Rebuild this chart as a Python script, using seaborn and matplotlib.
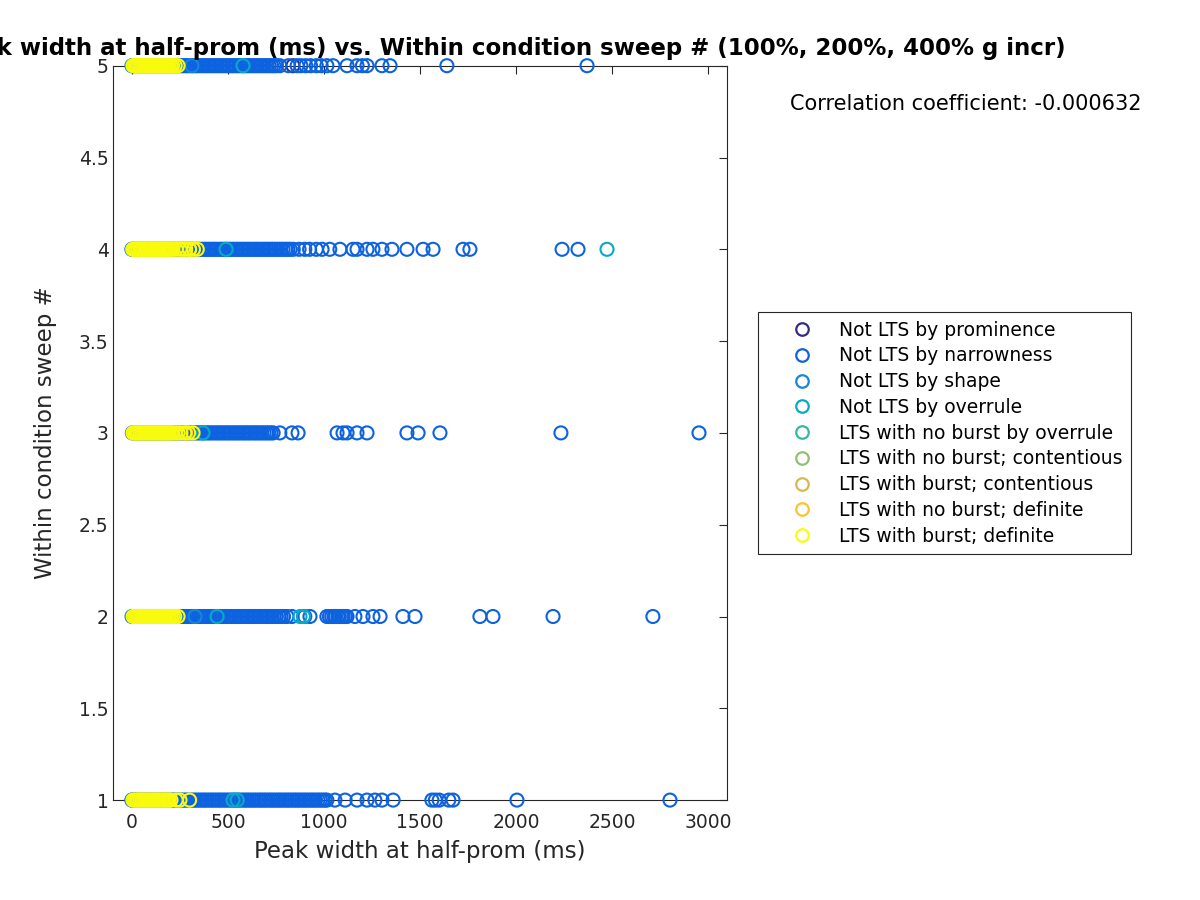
import pandas as pd
import matplotlib
matplotlib.use("Agg")
import matplotlib.pyplot as plt
from matplotlib.lines import Line2D
from matplotlib.ticker import FuncFormatter
import seaborn as sns

classes = ["Not LTS by prominence", "Not LTS by narrowness", "Not LTS by shape",
           "Not LTS by overrule", "LTS with no burst by overrule",
           "LTS with no burst; contentious", "LTS with burst; contentious",
           "LTS with no burst; definite", "LTS with burst; definite"]
colors = ["#352a87", "#0d62e0", "#1587d6", "#07aac6", "#35b99c",
          "#8fc073", "#d6b852", "#fcc331", "#f9fb0e"]

# peak widths (ms) per within-condition sweep
narrow_1 = [0, 12, 25, 37, 48, 61, 73, 86, 97, 110, 122, 135, 147, 158, 171, 183, 196,
            208, 219, 232, 244, 257, 268, 281, 293, 305, 318, 330, 342, 355, 367, 379,
            391, 404, 416, 428, 441, 453, 465, 477, 490, 502, 514, 527, 539, 551, 563,
            576, 588, 600, 612, 625, 637, 649, 662, 674, 686, 698, 711, 723, 735, 748,
            760, 772, 784, 797, 809, 821, 834, 846, 858, 870, 883, 895, 907, 920, 932,
            944, 956, 969, 981, 993, 1005, 1015, 1057, 1110, 1172, 1224, 1265, 1302,
            1360, 1562, 1580, 1600, 1650, 1672, 2005, 2802]
narrow_2 = [3, 15, 27, 40, 52, 64, 77, 89, 101, 113, 126, 138, 150, 163, 175, 187, 199,
            212, 224, 236, 249, 261, 273, 285, 298, 310, 322, 335, 347, 359, 371, 384,
            396, 408, 421, 433, 445, 457, 470, 482, 494, 507, 519, 531, 543, 556, 568,
            580, 593, 605, 617, 629, 642, 654, 666, 679, 691, 703, 715, 728, 740, 752,
            765, 777, 789, 807, 833, 900, 927, 1015, 1028, 1040, 1052, 1060, 1072, 1080,
            1092, 1100, 1112, 1120, 1161, 1203, 1255, 1292, 1411, 1474, 1812, 1880,
            2193, 2713]
narrow_3 = [2, 14, 26, 39, 51, 63, 75, 88, 100, 112, 124, 137, 149, 161, 173, 186, 198,
            210, 222, 235, 247, 259, 271, 284, 296, 308, 320, 333, 345, 357, 369, 382,
            394, 406, 418, 431, 443, 455, 467, 480, 492, 504, 516, 529, 541, 553, 565,
            578, 590, 602, 614, 627, 639, 651, 663, 676, 688, 700, 712, 724, 735, 770,
            833, 865, 1068, 1099, 1120, 1172, 1224, 1432, 1490, 1604, 2234, 2953]
narrow_4 = [1, 13, 26, 38, 50, 62, 75, 87, 99, 112, 124, 136, 148, 161, 173, 185, 198,
            210, 222, 234, 247, 259, 271, 284, 296, 308, 320, 333, 345, 357, 370, 382,
            394, 406, 419, 431, 443, 456, 468, 480, 492, 505, 517, 529, 542, 554, 566,
            578, 591, 603, 615, 628, 640, 652, 664, 677, 689, 701, 714, 726, 738, 750,
            763, 775, 787, 800, 812, 824, 840, 870, 900, 925, 960, 990, 1030, 1083,
            1151, 1172, 1224, 1255, 1302, 1354, 1432, 1516, 1568, 1724, 1760, 2240, 2323]
narrow_5 = [2, 14, 27, 39, 51, 64, 76, 88, 100, 113, 125, 137, 150, 162, 174, 186, 199,
            211, 223, 236, 248, 260, 272, 285, 297, 309, 322, 334, 346, 358, 371, 383,
            395, 408, 420, 432, 444, 457, 469, 481, 494, 506, 518, 530, 543, 555, 567,
            580, 592, 604, 616, 629, 641, 653, 666, 678, 690, 702, 715, 727, 739, 752,
            770, 815, 860, 880, 905, 930, 960, 985, 1015, 1047, 1120, 1172, 1200, 1224,
            1302, 1344, 1640, 2370]
promin_1 = [15]
promin_5 = [838]
shape_1 = [0]
shape_2 = [0, 328]
shape_4 = [0]
shape_5 = [0, 312]
overrule_1 = [526, 548]
overrule_2 = [443, 875, 893]
overrule_3 = [370]
overrule_4 = [490, 2474]
overrule_5 = [578]
nb_def_3 = [280]
nb_def_4 = [300]
burst_1 = [5, 14, 23, 32, 41, 50, 59, 68, 77, 86, 95, 104, 113, 122, 131, 140, 149, 158,
           167, 176, 185, 194, 203, 230, 250, 300]
burst_2 = [6, 15, 24, 33, 42, 51, 60, 69, 78, 87, 96, 105, 114, 123, 132, 141, 150, 159,
           168, 177, 186, 195, 204, 213, 223, 240]
burst_3 = [5, 14, 23, 32, 41, 50, 59, 68, 77, 86, 95, 104, 113, 122, 131, 140, 149, 158,
           167, 176, 185, 194, 203, 212, 225, 240, 255, 275, 295, 318]
burst_4 = [4, 13, 22, 31, 40, 49, 58, 67, 76, 85, 94, 103, 112, 121, 130, 139, 148, 157,
           166, 175, 184, 193, 202, 212, 230, 250, 265, 280, 300, 320, 340]
burst_5 = [5, 14, 23, 32, 41, 50, 59, 68, 77, 86, 95, 104, 113, 122, 131, 140, 149, 158,
           167, 176, 185, 194, 203, 212, 225, 240]

groups = [
    ("Not LTS by prominence", {1: promin_1, 5: promin_5}),
    ("Not LTS by narrowness", {1: narrow_1, 2: narrow_2, 3: narrow_3, 4: narrow_4, 5: narrow_5}),
    ("Not LTS by shape", {1: shape_1, 2: shape_2, 4: shape_4, 5: shape_5}),
    ("Not LTS by overrule", {1: overrule_1, 2: overrule_2, 3: overrule_3, 4: overrule_4, 5: overrule_5}),
    ("LTS with no burst; definite", {3: nb_def_3, 4: nb_def_4}),
    ("LTS with burst; definite", {1: burst_1, 2: burst_2, 3: burst_3, 4: burst_4, 5: burst_5}),
]

rows = []
for cls, by_sweep in groups:
    for sweep, widths in by_sweep.items():
        for w in widths:
            rows.append({"width": w, "sweep": sweep, "cls": cls})
df = pd.DataFrame(rows)

sns.set_style("white")
plt.rcParams["font.family"] = ["DejaVu Sans"]
fig = plt.figure(figsize=(12, 9), dpi=100)
ax = fig.add_axes([0.094, 0.111, 0.512, 0.816])

palette = dict(zip(classes, colors))
sns.scatterplot(data=df, x="width", y="sweep", hue="cls", hue_order=classes,
                palette=palette, s=88, linewidth=1.5, legend=False, ax=ax,
                clip_on=False, zorder=3)
# hollow circles, like the original
for coll in ax.collections:
    fc = coll.get_facecolors()
    coll.set_edgecolors(fc)
    coll.set_facecolors("none")

ax.set_xlim(-100, 3100)
ax.set_ylim(1, 5)
ax.set_xticks([0, 500, 1000, 1500, 2000, 2500, 3000])
ax.set_yticks([1, 1.5, 2, 2.5, 3, 3.5, 4, 4.5, 5])
ax.yaxis.set_major_formatter(FuncFormatter(lambda v, _: f"{v:g}"))
ax.tick_params(direction="in", length=6, width=0.8, top=True, right=True,
               labelsize=13.5, colors="#262626")
ax.tick_params(axis="x", pad=9)
ax.tick_params(axis="y", pad=3)
for sp in ax.spines.values():
    sp.set_color("#262626")
    sp.set_linewidth(0.8)
ax.set_xlabel("Peak width at half-prom (ms)", fontsize=16.5, color="#262626", labelpad=6)
ax.set_ylabel("Within condition sweep #", fontsize=16.5, color="#262626", labelpad=16)
# title sits off-centre in the original (wider than the figure, clipped on the left)
ax.set_title("Peak width at half-prom (ms) vs. Within condition sweep # (100%, 200%, 400% g incr)",
             fontsize=16.5, fontweight="bold", color="black", pad=8, x=0.642)

fig.text(0.658, 0.884, "Correlation coefficient: -0.000632", fontsize=15, va="center",
         color="black")

handles = [Line2D([], [], linestyle="none", marker="o", markersize=9,
                  markerfacecolor="none", markeredgecolor=c, markeredgewidth=1.6)
           for c in colors]
leg = fig.legend(handles, classes, loc="upper left", bbox_to_anchor=(0.632, 0.653),
                 fontsize=13.5, frameon=True, fancybox=False, framealpha=1,
                 edgecolor="#262626", borderpad=0.45, labelspacing=0.36,
                 handlelength=3.7, handletextpad=0.17, borderaxespad=0,
                 labelcolor="black")
leg.get_frame().set_linewidth(0.8)

fig.savefig("out.png", dpi=100)
